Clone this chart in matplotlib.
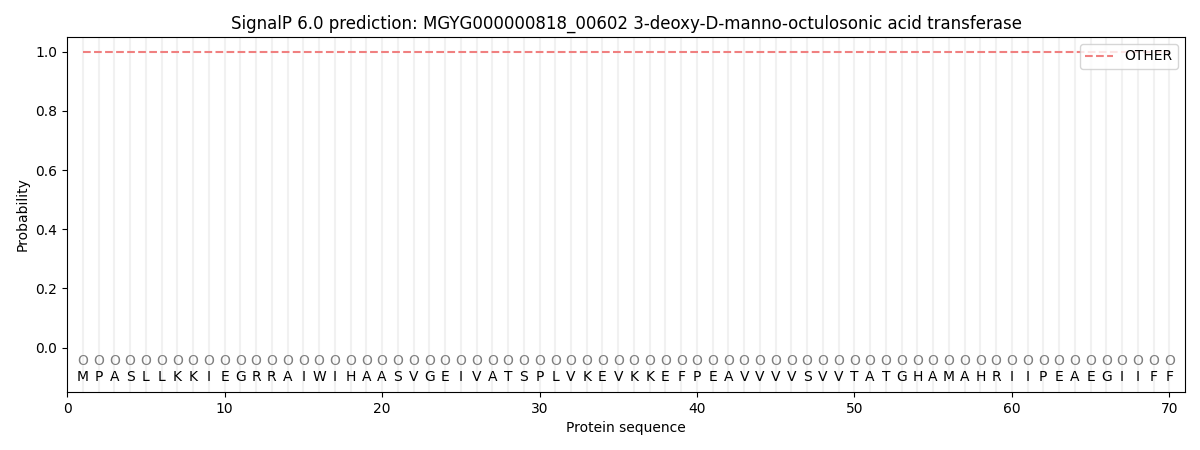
import numpy as np
import matplotlib
matplotlib.use("Agg")
import matplotlib.pyplot as plt

title = "SignalP 6.0 prediction: MGYG000000818_00602 3-deoxy-D-manno-octulosonic acid transferase"
sequence = "MPASLLKKIEGRRAIWIHAASVGEIVATSPLVKEVKKEFPEAVVVVSVVTATGHAMAHRIIPEAEGIIFF"
labels = ["O"] * len(sequence)
positions = np.arange(1, len(sequence) + 1)
other_prob = [1.0] * len(sequence)

fig, ax = plt.subplots(figsize=(12, 4.5), dpi=100)
fig.subplots_adjust(left=0.056, right=0.9875, top=0.918, bottom=0.129)

for p in positions:
    ax.axvline(p, color="#e8e8e8", linewidth=1.5, alpha=0.6, zorder=0)

ax.plot(positions, other_prob, linestyle="--", color="#f08080", linewidth=1.5, label="OTHER")

for p, aa, lab in zip(positions, sequence, labels):
    ax.text(p, -0.047, lab, ha="center", va="center", fontsize=10, color="#808080")
    ax.text(p, -0.1, aa, ha="center", va="center", fontsize=10, color="black")

ax.set_xlim(0, 71)
ax.set_ylim(-0.15, 1.05)
ax.set_xlabel("Protein sequence")
ax.set_ylabel("Probability")
ax.set_title(title)
ax.legend(loc="upper right")

plt.savefig("out.png")
